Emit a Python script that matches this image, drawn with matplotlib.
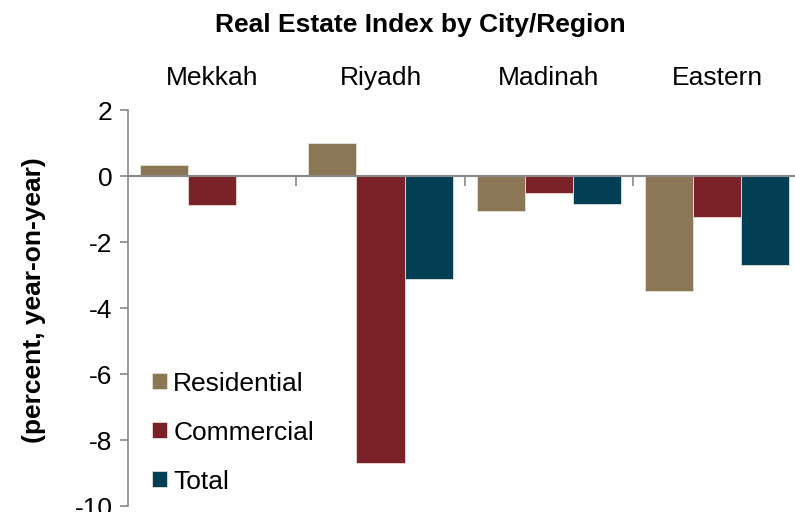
import numpy as np
import matplotlib
matplotlib.use('Agg')
import matplotlib.pyplot as plt
import matplotlib.transforms as mtransforms

plt.rcParams['font.family'] = ['Liberation Sans', 'DejaVu Sans']
plt.rcParams['axes.unicode_minus'] = False

# Data
cities = ['Mekkah', 'Riyadh', 'Madinah', 'Eastern']
residential = [0.34, 1.0, -1.05, -3.48]
commercial = [-0.87, -8.71, -0.5, -1.24]
total = [np.nan, -3.13, -0.84, -2.7]

series = [('Residential', residential, '#8B7755'),
          ('Commercial', commercial, '#7B2229'),
          ('Total', total, '#023F54')]

fs = 19

fig = plt.figure(figsize=(7.95, 5.12), dpi=100)
ax = fig.add_axes([0.161, 0.0117, 0.847, 0.7734])

x = np.arange(len(cities))
width = 0.286
for i, (name, vals, color) in enumerate(series):
    ax.bar(x + (i - 1) * width, vals, width, color=color, label=name,
           edgecolor='#e6e0d8', linewidth=0.6)

ax.set_xlim(-0.5, 3.5)
ax.set_ylim(-10, 2)
ax.set_yticks(np.arange(-10, 3, 2))
ax.tick_params(axis='y', labelsize=fs, colors='#888888', labelcolor='black',
               length=6, width=1.2, pad=5)

# x axis sits on zero, with separator ticks between the cities
ax.spines['bottom'].set_position(('data', 0))
ax.spines['bottom'].set_color('#888888')
ax.spines['bottom'].set_linewidth(1.5)
ax.spines['left'].set_color('#888888')
ax.spines['left'].set_linewidth(1.2)
ax.spines['top'].set_visible(False)
ax.spines['right'].set_visible(False)
ax.set_xticks([0.5, 1.5, 2.5])
ax.set_xticklabels([])
ax.tick_params(axis='x', colors='#888888', length=7, width=1.2, direction='out')

# city names along the top
trans = mtransforms.blended_transform_factory(ax.transData, fig.transFigure)
for xi, name in zip(x, cities):
    ax.text(xi, 1 - 78 / 512, name, transform=trans, ha='center', va='center', fontsize=fs)

fig.text(420 / 795, 1 - 25 / 512, 'Real Estate Index by City/Region',
         ha='center', va='center', fontsize=fs, fontweight='bold')
fig.text(34 / 795, 1 - 300 / 512, '(percent, year-on-year)', rotation=90,
         ha='center', va='center', fontsize=fs, fontweight='bold')

leg = ax.legend(loc='upper left', bbox_to_anchor=(0.02, 0.366), frameon=False,
                fontsize=fs, handlelength=0.55, handleheight=0.55,
                handletextpad=0.25, labelspacing=0.95, borderaxespad=0)

fig.savefig('out.png', dpi=100)
